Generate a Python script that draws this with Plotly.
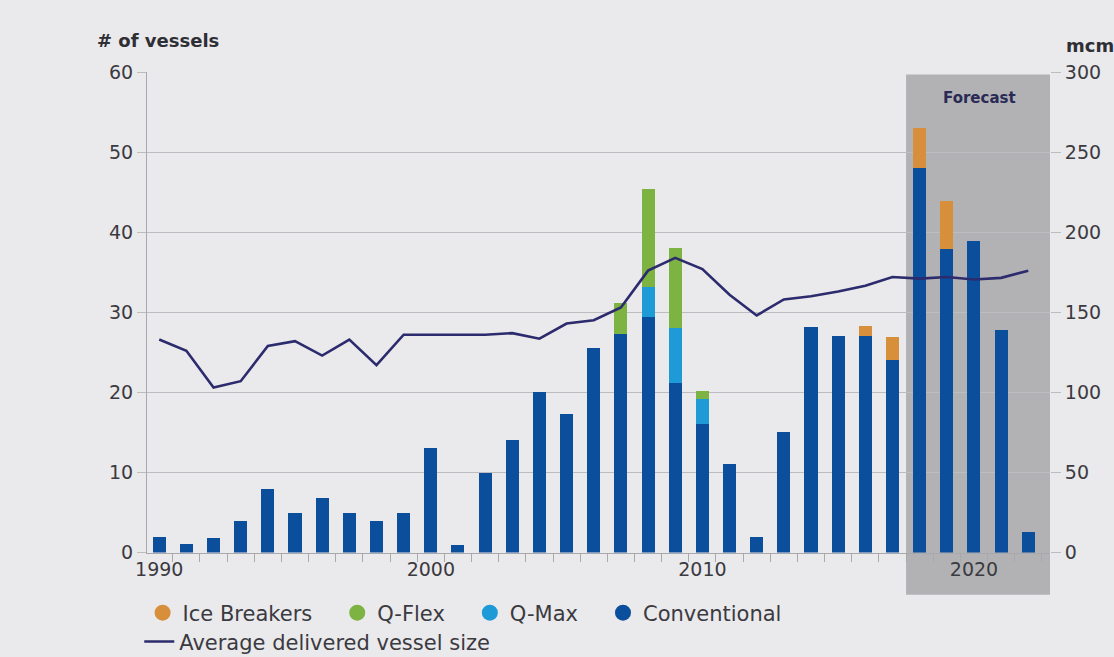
import plotly.graph_objects as go

# LNG carrier deliveries per year, by vessel type
years = list(range(1990, 2023))
conventional = [1.9, 1.1, 1.8, 4.0, 8.0, 4.9, 6.8, 4.9, 3.9, 4.9,
                13.0, 1.0, 9.9, 14.1, 20.0, 17.3, 25.5, 27.3, 29.4, 21.2,
                16.1, 11.1, 2.0, 15.0, 28.2, 27.0, 27.0, 24.1, 48.0, 37.9,
                38.9, 27.8, 2.6]
q_max = [0] * 18 + [3.7, 6.9, 3.1] + [0] * 12
q_flex = [0] * 17 + [3.8, 12.3, 9.9, 1.0] + [0] * 12
ice_breakers = [0] * 26 + [1.3, 2.8, 5.0, 6.0] + [0] * 3

# Average delivered vessel size (mcm)
avg_size = [133, 126, 103, 107, 129, 132, 123, 133, 117, 136,
            136, 136, 136, 137, 133.5, 143, 145, 153, 176, 184,
            177, 161, 148, 158, 160, 163, 166.5, 172, 171, 172,
            170.5, 171.5, 176]

x_labels = [1990, 2000, 2010, 2020]
forecast_start = 2017.5

C_CONV = "#0b4f9c"
C_QMAX = "#1e9bd7"
C_QFLEX = "#7cb342"
C_ICE = "#d88f3c"
C_LINE = "#2c2b6d"
TXT = "#3a3a40"
GRID = "#bdbcc0"
BG = "#eae9ec"
FONT = "DejaVu Sans"
NB = "\u00a0" * 3

fig = go.Figure()

for name, vals, col in [("Conventional", conventional, C_CONV),
                        ("Q-Max", q_max, C_QMAX),
                        ("Q-Flex", q_flex, C_QFLEX),
                        ("Ice Breakers", ice_breakers, C_ICE)]:
    fig.add_trace(go.Bar(x=years, y=vals, name=name, marker_color=col,
                         marker_line_width=0, showlegend=False))

fig.add_trace(go.Scatter(x=years, y=avg_size, yaxis="y2", mode="lines",
                         line=dict(color=C_LINE, width=2.6),
                         name="Average delivered vessel size", legend="legend2"))

# circular legend keys for the bar series
for name, col in [("Ice Breakers" + NB, C_ICE), ("Q-Flex" + NB, C_QFLEX),
                  ("Q-Max" + NB, C_QMAX), ("Conventional", C_CONV)]:
    fig.add_trace(go.Scatter(x=[None], y=[None], mode="markers", name=name,
                             marker=dict(symbol="circle", size=18, color=col),
                             legend="legend"))

# forecast band
fig.add_shape(type="rect", xref="x", yref="paper", x0=forecast_start, x1=2022.9,
              y0=-0.088, y1=0.995, fillcolor="rgba(95,95,100,0.40)",
              line_width=0, layer="below")
fig.add_annotation(x=(forecast_start + 2022.9) / 2, y=0.945, xref="x", yref="paper",
                   yanchor="middle", text="<b>Forecast</b>", showarrow=False,
                   font=dict(family=FONT, size=15, color="#2a2a55"))

fig.add_annotation(x=-0.058, y=1.066, xref="paper", yref="paper", xanchor="left",
                   yanchor="middle", text="<b># of vessels</b>", showarrow=False,
                   font=dict(family=FONT, size=18, color="#2e2e35"))
fig.add_annotation(x=1.016, y=1.056, xref="paper", yref="paper", xanchor="left",
                   yanchor="middle", text="<b>mcm</b>", showarrow=False,
                   font=dict(family=FONT, size=18, color="#2e2e35"))

fig.update_layout(
    width=1114, height=657,
    margin=dict(l=147, r=64, t=72, b=101),
    paper_bgcolor=BG, plot_bgcolor=BG,
    barmode="stack", bargap=0.52,
    font=dict(family=FONT, size=19, color=TXT),
    xaxis=dict(range=[1989.55, 2022.8], tickmode="array", tickvals=x_labels,
               ticks="", showgrid=False, showline=True, linecolor="#a9a8ad",
               linewidth=1.2, tickfont=dict(size=19, color=TXT),
               minor=dict(tickmode="linear", tick0=1989.5, dtick=1,
                          ticks="outside", ticklen=8, tickcolor="#a9a8ad",
                          showgrid=False)),
    yaxis=dict(range=[0, 60], dtick=10, showgrid=True, gridcolor=GRID,
               gridwidth=1, showline=True, linecolor="#a9a8ad", zeroline=False,
               ticks="outside", ticklen=9, tickcolor=GRID,
               tickfont=dict(size=19, color=TXT)),
    yaxis2=dict(range=[0, 300], dtick=50, overlaying="y", side="right",
                showgrid=False, zeroline=False, showline=False,
                ticks="outside", ticklen=10, tickcolor=GRID,
                tickfont=dict(size=19, color=TXT)),
    legend=dict(orientation="h", x=0.128, y=0.067, xanchor="left",
                xref="container", yref="container", yanchor="middle",
                bgcolor="rgba(0,0,0,0)", traceorder="normal",
                font=dict(family=FONT, size=21, color=TXT)),
    legend2=dict(orientation="h", x=0.125, y=0.023, xanchor="left",
                 xref="container", yref="container", yanchor="middle",
                 bgcolor="rgba(0,0,0,0)",
                 font=dict(family=FONT, size=21, color=TXT)),
)

fig.write_html("out.html")
